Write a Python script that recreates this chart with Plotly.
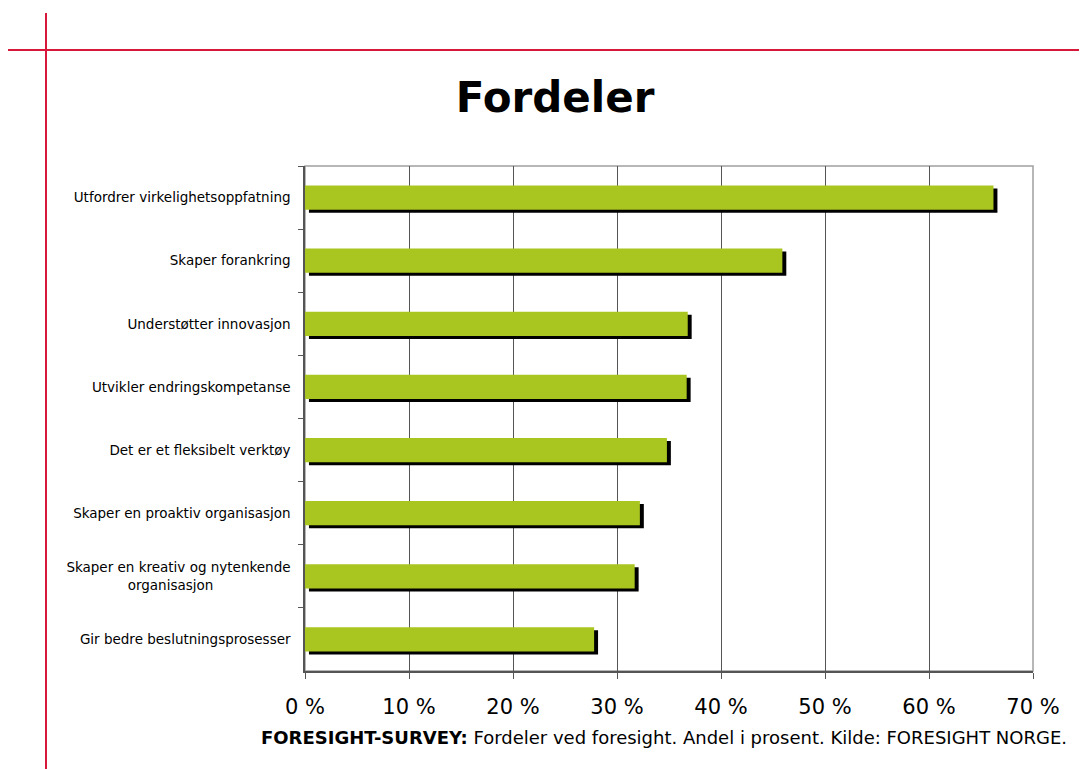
import plotly.graph_objects as go

categories = [
    "Utfordrer virkelighetsoppfatning",
    "Skaper forankring",
    "Understøtter innovasjon",
    "Utvikler endringskompetanse",
    "Det er et fleksibelt verktøy",
    "Skaper en proaktiv organisasjon",
    "Skaper en kreativ og nytenkende<br>organisasjon" + "\u00a0" * 18,
    "Gir bedre beslutningsprosesser",
]
values = [66.2, 45.9, 36.8, 36.7, 34.8, 32.2, 31.7, 27.8]
tick_vals = [0, 10, 20, 30, 40, 50, 60, 70]
tick_text = ["0 %", "10 %", "20 %", "30 %", "40 %", "50 %", "60 %", "70 %"]

title_text = "Fordeler"
caption = "<b>FORESIGHT-SURVEY:</b> Fordeler ved foresight. Andel i prosent. Kilde: FORESIGHT NORGE."

FONT = "DejaVu Sans, Verdana, sans-serif"
GREEN = "#A9C520"
RED = "#D7183A"

bar_w = 0.385
shadow_dx = 0.38   # % units (~4 px)
shadow_dy = 0.048  # category units (~3 px)

fig = go.Figure()
fig.add_trace(go.Bar(
    y=categories, x=values, base=shadow_dx, orientation="h",
    marker=dict(color="#000000", line=dict(width=0)),
    width=bar_w, offset=-bar_w / 2 + shadow_dy, hoverinfo="skip",
))
fig.add_trace(go.Bar(
    y=categories, x=values, orientation="h",
    marker=dict(color=GREEN, line=dict(width=0)),
    width=bar_w, offset=-bar_w / 2, hoverinfo="skip",
))

OFF = 8  # page body margin
W, H = 1087 - OFF, 769 - OFF
L, R, T, B = 305 - OFF, 1033 - OFF, 166 - OFF, 671 - OFF
pw, ph = R - L, B - T

def px(x):
    return (x - OFF - L) / pw

def py(y):
    return (B - (y - OFF)) / ph

shapes = [
    dict(type="rect", xref="paper", yref="paper", x0=0, x1=1, y0=0, y1=1,
         line=dict(color="#A0A0A0", width=1.5), layer="below"),
    dict(type="line", xref="paper", yref="paper", x0=px(8), x1=px(1087), y0=py(50), y1=py(50),
         line=dict(color=RED, width=2)),
    dict(type="line", xref="paper", yref="paper", x0=px(46), x1=px(46), y0=py(13), y1=py(769),
         line=dict(color=RED, width=2)),
]

fig.update_layout(
    width=W, height=H,
    margin=dict(l=L, r=W - R, t=T, b=H - B),
    paper_bgcolor="white", plot_bgcolor="white",
    barmode="overlay", showlegend=False,
    font=dict(family=FONT, color="#000000"),
    shapes=shapes,
    title=dict(text="<b>" + title_text + "</b>", x=(555 - OFF) / W, xanchor="center",
               y=1 - (97 - OFF) / H, yanchor="middle",
               font=dict(family=FONT, size=42, color="#000000")),
    annotations=[dict(text=caption, xref="paper", yref="paper", x=px(1069), y=py(737),
                      xanchor="right", yanchor="middle", showarrow=False,
                      font=dict(family=FONT, size=18, color="#000000"))],
)
fig.update_xaxes(
    range=[0, 70], tickvals=tick_vals, ticktext=tick_text,
    showgrid=True, gridcolor="#555555", gridwidth=1,
    showline=True, linecolor="#555555", linewidth=1.5,
    ticks="outside", ticklen=6, tickcolor="#555555",
    tickfont=dict(family=FONT, size=21, color="#000000"),
    ticklabelstandoff=10, zeroline=False, fixedrange=True,
)
fig.update_yaxes(
    autorange="reversed", showgrid=False,
    showline=True, linecolor="#555555", linewidth=1.5,
    ticks="outside", ticklen=5, tickcolor="#555555", tickson="boundaries",
    tickfont=dict(family=FONT, size=13.5, color="#000000"),
    ticklabelstandoff=10, fixedrange=True,
)

fig.write_html("out.html")
